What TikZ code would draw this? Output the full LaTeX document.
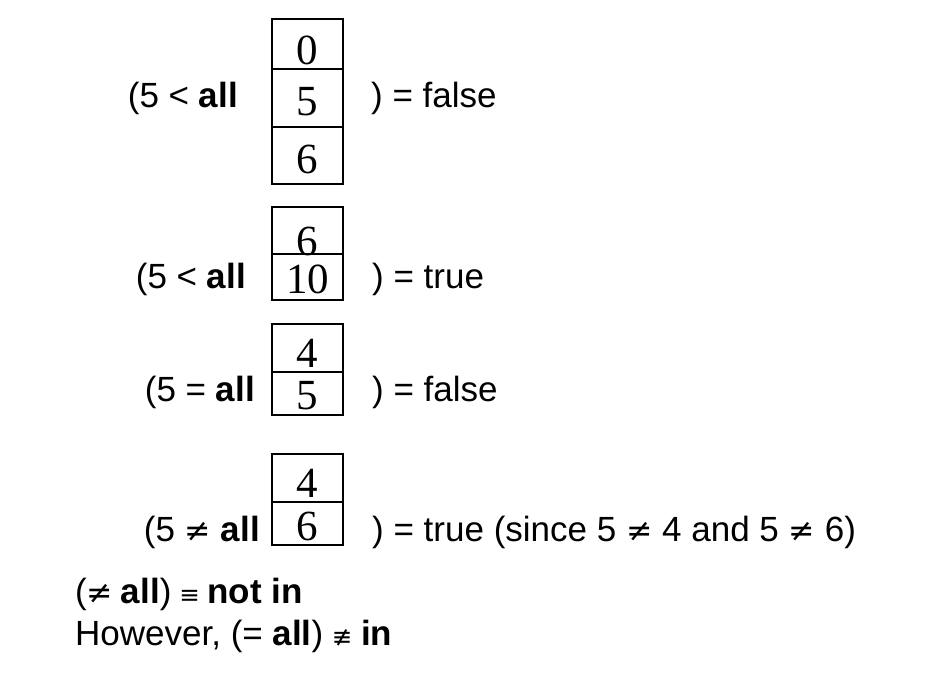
\documentclass[tikz,border=0pt]{standalone}
\usepackage{fontspec}
\setmainfont{Liberation Sans}
\newfontfamily\digitfont{Liberation Serif}
\newfontfamily\symf[Scale=0.9]{DejaVu Sans}
\newfontfamily\symg[Scale=0.7]{DejaVu Sans}
\newcommand{\nq}{{\symf ≠}}
\newcommand{\eqv}{{\symg ≡}}
\newcommand{\neqv}{{\symg ≢}}
\tikzset{
  lbl/.style={inner sep=0pt, font=\fontsize{35}{42}\selectfont},
  dig/.style={inner sep=0pt, anchor=base, font=\digitfont\fontsize{43}{48}\selectfont},
  cellbox/.style={draw=black, line width=1.3pt}
}
\begin{document}
\begin{tikzpicture}[x=1pt,y=-1pt]
\useasboundingbox (0,0) rectangle (936,698);
% box 1
\draw[cellbox] (272,19) rectangle (343,184);
\draw[cellbox] (272,69) -- (343,69);
\draw[cellbox] (272,127) -- (343,127);
\node[dig] (b1a) at (307.5,64.5) {0};
\node[dig] (b1b) at (307.5,116) {5};
\node[dig] (b1c) at (307.5,173) {6};
\node[lbl, anchor=base east] (l1) at (238,107) {(5 < \textbf{all}};
\node[lbl, anchor=base west] (r1) at (371,107) {) = false};
% box 2
\draw[cellbox] (272,207) rectangle (343,300);
\draw[cellbox] (272,254) -- (343,254);
\node[dig] (b2a) at (307.5,255) {6};
\node[dig] (b2b) at (307.5,293) {10};
\node[lbl, anchor=base east] (l2) at (246,288) {(5 < \textbf{all}};
\node[lbl, anchor=base west] (r2) at (372,288) {) = true};
% box 3
\draw[cellbox] (272,324) rectangle (343,415);
\draw[cellbox] (272,372) -- (343,372);
\node[dig] (b3a) at (307.5,367) {4};
\node[dig] (b3b) at (307.5,409.5) {5};
\node[lbl, anchor=base east] (l3) at (255,401) {(5 = \textbf{all}};
\node[lbl, anchor=base west] (r3) at (372,401) {) = false};
% box 4
\draw[cellbox] (272,454) rectangle (343,545);
\draw[cellbox] (272,502) -- (343,502);
\node[dig] (b4a) at (307.5,497) {4};
\node[dig] (b4b) at (307.5,540) {6};
\node[lbl, anchor=base east] (l4) at (260,541) {(5 \nq{} \textbf{all}};
\node[lbl, anchor=base west] (r4) at (372,541) {) = true (since 5 \nq{} 4 and 5 \nq{} 6)};
% bottom lines
\node[lbl, anchor=base west] (n1) at (75,603) {(\nq{}\hspace{-2pt} \textbf{all})\hspace{-2pt} \eqv{}\hspace{-2pt} \textbf{not in}};
\node[lbl, anchor=base west] (n2) at (75,645) {However, (= \textbf{all})\hspace{-1pt} \neqv{}\hspace{-1pt} \textbf{in}};
\end{tikzpicture}
\end{document}
